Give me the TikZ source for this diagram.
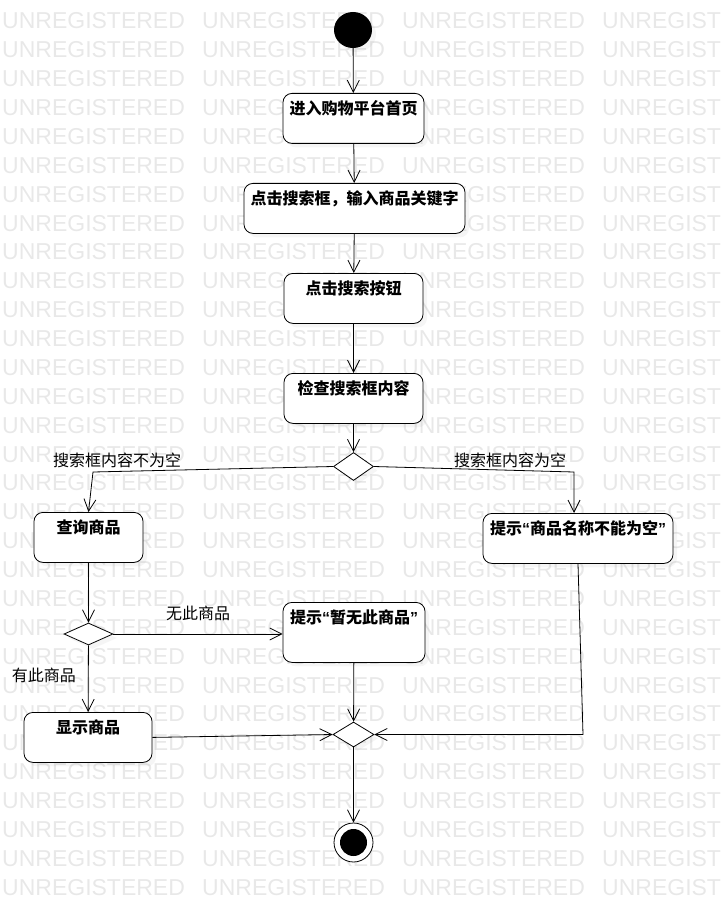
\documentclass[tikz,border=0pt]{standalone}
\usepackage{fontspec}
\setmainfont{Noto Sans CJK SC}
\newfontfamily\wmfont{Liberation Sans}
\newcommand{\qopen}{{\wmfont “}}
\newcommand{\qclose}{{\wmfont ”}}
\usetikzlibrary{shapes.geometric,arrows.meta,shadows}
\definecolor{wmgray}{RGB}{232,232,232}
\begin{document}
\begin{tikzpicture}[x=1pt,y=-1pt,
            wm/.style={anchor=base west,inner sep=0pt,text=wmgray,font=\wmfont\fontsize{23}{23}\selectfont},
            act/.style={draw,rounded corners=9pt,fill=white,inner sep=0pt,line width=0.8pt,anchor=north,
                text height=21pt,text depth=29pt,font=\fontsize{16}{18}\selectfont\bfseries,
                drop shadow={shadow xshift=4pt,shadow yshift=-4pt,opacity=0.08}},
            decision/.style={diamond,draw,fill=white,inner sep=0pt,line width=0.8pt,
                drop shadow={shadow xshift=4pt,shadow yshift=-4pt,opacity=0.08}},
            startnode/.style={ellipse,fill=black,inner sep=0pt,minimum width=38pt,minimum height=36pt,
                drop shadow={shadow xshift=4pt,shadow yshift=-4pt,opacity=0.08}},
            endnode/.style={circle,draw,fill=white,line width=0.8pt,inner sep=0pt,minimum size=39pt,
                path picture={\fill[black] (path picture bounding box.center) circle (13.5pt);}},
            guard/.style={inner sep=0pt,font=\fontsize{16}{18}\selectfont},
            flow/.style={line width=0.8pt,-{Straight Barb[length=12pt,width=12pt]}}]
            \useasboundingbox (0,0) rectangle (723,912);
            \foreach \r in {0,...,30}
                \foreach \c/\w in {0/UNREGISTERED,1/UNREGISTERED,2/UNREGISTERED,3/UNREGIST}
                    \node[wm] (wm-\r-\c) at (2+200*\c,29+28.87*\r) {\w};
            \node[startnode] (start) at (353,30) {};
            \node[act,minimum width=141pt] (home) at (353.5,93) {进入购物平台首页};
            \node[act,minimum width=221pt] (input) at (354.5,183) {点击搜索框，输入商品关键字};
            \node[act,minimum width=139pt] (click) at (353.5,273) {点击搜索按钮};
            \node[act,minimum width=139pt] (check) at (353.5,373) {检查搜索框内容};
            \node[decision,minimum width=40pt,minimum height=28pt] (split) at (353.5,466.5) {};
            \node[act,minimum width=109pt] (query) at (88.5,512) {查询商品};
            \node[act,minimum width=190pt] (empty) at (578,513) {提示\qopen 商品名称不能为空\qclose};
            \node[decision,minimum width=49pt,minimum height=22pt] (found) at (88.5,634) {};
            \node[act,minimum width=142pt,text depth=39pt] (none) at (354,602) {提示\qopen 暂无此商品\qclose};
            \node[act,minimum width=128pt] (show) at (88,712) {显示商品};
            \node[decision,minimum width=41pt,minimum height=25pt] (merge) at (353.5,734.5) {};
            \node[endnode] (end) at (353.5,842.5) {};
            \coordinate (cL) at (93,472);
            \coordinate (cR) at (574,472);
            \coordinate (cB) at (583,734.5);
            \draw[flow] (start) -- (home);
            \draw[flow] (home) -- (input);
            \draw[flow] (input) -- (click);
            \draw[flow] (click) -- (check);
            \draw[flow] (check) -- (split);
            \draw[flow] (split.west) -- (cL) -- (query.north);
            \draw[flow] (split.east) -- (cR) -- (cR |- empty.north);
            \draw[flow] (query) -- (found);
            \draw[flow] (found.east) -- (found.east -| none.west);
            \draw[flow] (found) -- (show);
            \draw[flow] (show.east) -- (merge.west);
            \draw[flow] (none) -- (merge);
            \draw[flow] (empty.south) -- (cB) -- (merge.east);
            \draw[flow] (merge) -- (end);
            \node[guard] (gNotEmpty) at (117,460) {搜索框内容不为空};
            \node[guard] (gEmpty) at (510,460) {搜索框内容为空};
            \node[guard] (gNone) at (198,613) {无此商品};
            \node[guard] (gFound) at (44,675) {有此商品};
        \end{tikzpicture}
\end{document}
